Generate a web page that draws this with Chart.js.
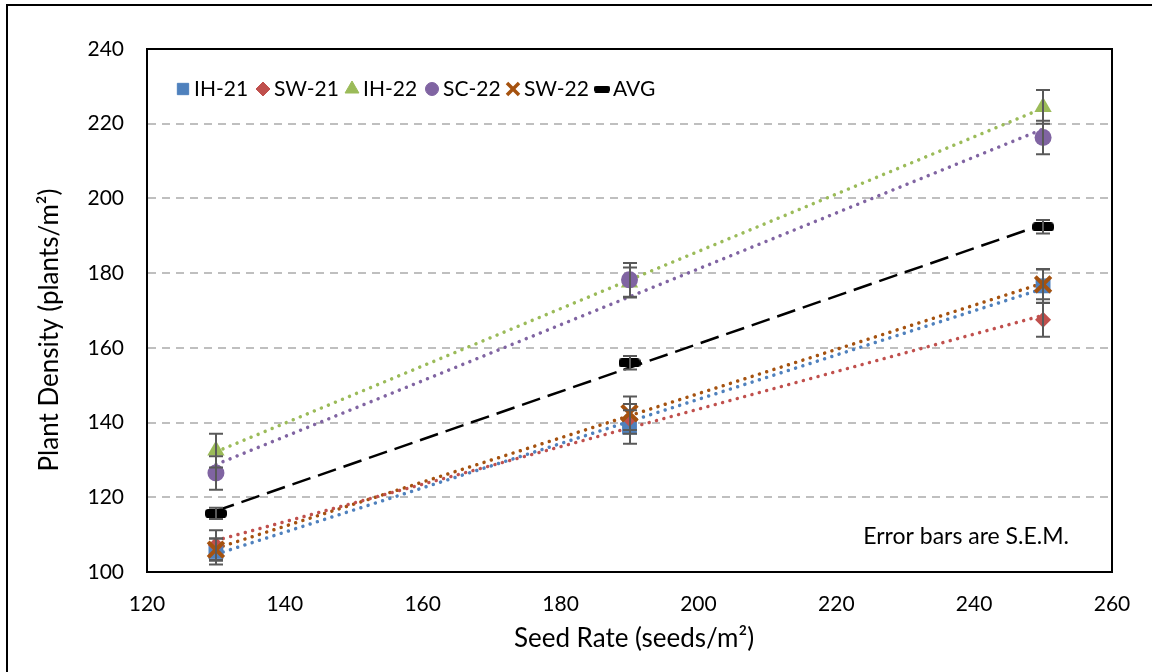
<!DOCTYPE html>
<html>
<head>
<meta charset="utf-8">
<title>Plant density vs seed rate</title>
<script src="https://cdn.jsdelivr.net/npm/chart.js@4.4.1/dist/chart.umd.min.js"></script>
<style>
  html, body { margin: 0; padding: 0; background: #fff; }
  #wrap { width: 1152px; height: 672px; }
</style>
</head>
<body>
<div id="wrap"><canvas id="densityChart" width="1152" height="672"></canvas></div>
<script>
// seed rates (seeds/m2) and plant density means / S.E.M. per site-year
const seedRates = [130, 190, 250];

const ih21 = [105.5, 138.8, 176.6];
const sw21 = [107.2, 141.0, 167.5];
const ih22 = [132.5, 177.5, 224.5];
const sc22 = [126.5, 178.2, 216.3];
const sw22 = [106.0, 142.5, 177.0];
const avg  = [115.7, 156.0, 192.4];

const ih21Err = [3.5, 4.5, 4.5];
const sw21Err = [4.0, 4.0, 4.5];
const ih22Err = [4.5, 4.0, 4.5];
const sc22Err = [4.5, 4.5, 4.5];
const sw22Err = [3.0, 4.5, 4.0];
const avgErr  = [1.5, 1.8, 1.8];

const xTicks = [120, 140, 160, 180, 200, 220, 240, 260];
const yTicks = [100, 120, 140, 160, 180, 200, 220, 240];

const FONT = 'Lato, "Open Sans", sans-serif';

// solid dash marker used for the average series
function dashMarker(w, h) {
    const c = document.createElement('canvas');
    c.width = w; c.height = h;
    const g = c.getContext('2d');
    g.fillStyle = '#000';
    g.beginPath();
    g.roundRect(0, 0, w, h, h / 2.5);
    g.fill();
    return c;
}

const series = [
    { label: 'IH-21', data: ih21, err: ih21Err, color: '#4f81bd', style: 'rect',     r: 10.5, lr: 8,   bw: 0, trend: 'dot' },
    { label: 'SW-21', data: sw21, err: sw21Err, color: '#c0504d', style: 'rectRot',  r: 8,    lr: 7,   bw: 0, trend: 'dot' },
    { label: 'IH-22', data: ih22, err: ih22Err, color: '#9bbb59', style: 'triangle', r: 10,   lr: 8,   bw: 0, trend: 'dot' },
    { label: 'SC-22', data: sc22, err: sc22Err, color: '#8064a2', style: 'circle',   r: 8.5,  lr: 6.5, bw: 0, trend: 'dot' },
    { label: 'SW-22', data: sw22, err: sw22Err, color: '#a5520f', style: 'crossRot', r: 11,   lr: 8.5, bw: 4, trend: 'dot' },
    { label: 'AVG',   data: avg,  err: avgErr,  color: '#000000', style: dashMarker(22, 9), r: 11, lr: 0, bw: 0, trend: 'dash' }
];

// least squares line across the seed-rate range
function trendPoints(xs, ys) {
    const n = xs.length;
    const mx = xs.reduce((a, b) => a + b, 0) / n;
    const my = ys.reduce((a, b) => a + b, 0) / n;
    let sxy = 0, sxx = 0;
    for (let i = 0; i < n; i++) { sxy += (xs[i] - mx) * (ys[i] - my); sxx += (xs[i] - mx) ** 2; }
    const b = sxy / sxx, a = my - b * mx;
    const x0 = Math.min(...xs), x1 = Math.max(...xs);
    return [{ x: x0, y: a + b * x0 }, { x: x1, y: a + b * x1 }];
}

const datasets = [];
series.forEach((s, i) => {
    datasets.push({
        type: 'line',
        label: s.label + ' trend',
        data: trendPoints(seedRates, s.data),
        borderColor: s.color,
        borderWidth: s.trend === 'dash' ? 2.5 : 3.5,
        borderDash: s.trend === 'dash' ? [19, 8] : [0.01, 7.6],
        borderCapStyle: s.trend === 'dash' ? 'butt' : 'round',
        pointRadius: 0,
        fill: false,
        order: 20
    });
    datasets.push({
        type: 'scatter',
        label: s.label,
        data: seedRates.map((x, k) => ({ x: x, y: s.data[k] })),
        errors: s.err,
        pointStyle: s.style,
        pointRadius: s.r,
        pointBackgroundColor: s.color,
        pointBorderColor: s.color,
        pointBorderWidth: s.bw,
        order: 10 - i
    });
});

// error bars, legend row, note, axis titles and frames
const decorations = {
    id: 'decorations',
    afterDatasetsDraw(chart) {
        const ctx = chart.ctx;
        const xs = chart.scales.x, ys = chart.scales.y;
        ctx.save();
        ctx.strokeStyle = '#595959';
        ctx.lineWidth = 2;
        series.forEach(s => {
            seedRates.forEach((x, k) => {
                const px = Math.round(xs.getPixelForValue(x));
                const top = ys.getPixelForValue(s.data[k] + s.err[k]);
                const bot = ys.getPixelForValue(s.data[k] - s.err[k]);
                ctx.beginPath();
                ctx.moveTo(px, top); ctx.lineTo(px, bot);
                ctx.moveTo(px - 7, top); ctx.lineTo(px + 7, top);
                ctx.moveTo(px - 7, bot); ctx.lineTo(px + 7, bot);
                ctx.stroke();
            });
        });
        ctx.restore();
    },
    afterDraw(chart) {
        const ctx = chart.ctx;
        const a = chart.chartArea;
        ctx.save();

        // plot area box
        ctx.strokeStyle = '#000';
        ctx.lineWidth = 2;
        ctx.strokeRect(a.left, a.top, a.right - a.left, a.bottom - a.top);

        // outer frame
        ctx.beginPath();
        ctx.moveTo(7, 680); ctx.lineTo(7, 5); ctx.lineTo(1160, 5);
        ctx.stroke();

        // legend
        const legendX = [183, 263, 352, 432, 513, 602];
        const legendY = 89;
        ctx.font = '21px ' + FONT;
        ctx.textBaseline = 'middle';
        ctx.textAlign = 'left';
        series.forEach((s, i) => {
            const lx = legendX[i];
            ctx.fillStyle = s.color;
            ctx.strokeStyle = s.color;
            ctx.lineWidth = s.bw ? 3.5 : 1;
            if (s.label === 'AVG') {
                ctx.drawImage(dashMarker(16, 7), lx - 8, legendY - 3.5);
            } else {
                Chart.helpers.drawPoint(ctx, { pointStyle: s.style, radius: s.lr, borderWidth: ctx.lineWidth, rotation: 0 }, lx, legendY);
            }
            ctx.fillStyle = '#000';
            ctx.fillText(s.label, lx + 11, legendY);
        });

        // note
        ctx.font = '23px ' + FONT;
        ctx.textAlign = 'right';
        ctx.fillText('Error bars are S.E.M.', 1069, 537);

        // axis titles
        ctx.font = '26px ' + FONT;
        ctx.textAlign = 'center';
        ctx.fillText('Seed Rate (seeds/m\u00b2)', 634, 639);
        ctx.translate(50, 330);
        ctx.rotate(-Math.PI / 2);
        ctx.fillText('Plant Density (plants/m\u00b2)', 0, 0);
        ctx.restore();
    }
};

new Chart(document.getElementById('densityChart'), {
    data: { datasets: datasets },
    options: {
        responsive: false,
        animation: false,
        layout: { padding: { left: 0, right: 40, top: 49, bottom: 0 } },
        plugins: { legend: { display: false }, tooltip: { enabled: false } },
        scales: {
            x: {
                type: 'linear',
                min: 120, max: 260,
                afterFit: s => { s.height = 100; },
                afterBuildTicks: s => { s.ticks = xTicks.map(v => ({ value: v })); },
                grid: { display: false, drawTicks: false },
                border: { display: true, color: '#000', width: 2 },
                ticks: { color: '#000', font: { family: FONT, size: 21 }, padding: 20, maxRotation: 0 }
            },
            y: {
                type: 'linear',
                min: 100, max: 240,
                afterFit: s => { s.width = 147; },
                afterBuildTicks: s => { s.ticks = yTicks.map(v => ({ value: v })); },
                grid: { color: '#bfbfbf', lineWidth: 2, drawTicks: false },
                border: { display: true, color: '#000', width: 2, dash: [8, 6] },
                ticks: { color: '#000', font: { family: FONT, size: 21 }, padding: 23 }
            }
        }
    },
    plugins: [decorations]
});
</script>
</body>
</html>
